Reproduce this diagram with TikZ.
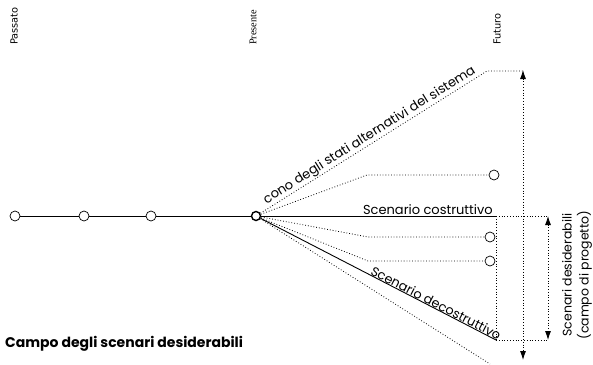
\documentclass[tikz,border=0pt]{standalone}
\usepackage{fontspec}
\setmainfont{Poppins}
\newfontfamily\djv{DejaVu Sans}
\newfontfamily\lser{Liberation Serif}
\usetikzlibrary{arrows.meta}
\begin{document}
\begin{tikzpicture}[x=1pt,y=-1pt,
  pt/.style={circle,draw,fill=white,minimum size=10pt,inner sep=0pt,line width=0.7pt},
  ptp/.style={circle,draw,fill=white,minimum size=9pt,inner sep=0pt,line width=1.4pt},
  solidln/.style={line width=0.9pt},
  dotln/.style={dotted,line width=0.8pt},
  dblarrow/.style={dotted,line width=0.8pt,{Latex[length=9pt,width=6pt]}-{Latex[length=9pt,width=6pt]}},
  lbl/.style={inner sep=1pt},
  timelbl/.style={font=\djv\fontsize{9.8}{11}\selectfont,rotate=90,anchor=west,inner sep=0pt},
]
\useasboundingbox (0,0) rectangle (593,364);
% timeline labels
\node[timelbl] (lpas) at (14,45) {Passato};
\node[timelbl,font=\lser\fontsize{10.3}{11}\selectfont] (lpre) at (253,45) {Presente};
\node[timelbl] (lfut) at (497,45) {Futuro};
% timeline
\node[pt] (c1) at (15,216) {};
\node[pt] (c2) at (84,216) {};
\node[pt] (c3) at (151,216) {};
\node[ptp] (pres) at (256,216) {};
\draw[solidln] (c1) -- (c2) -- (c3) -- (pres);
% coordinates
\coordinate (ct) at (487,71);
\coordinate (ctr) at (523,71);
\coordinate (b1) at (367,175);
\coordinate (b2) at (368,237);
\coordinate (b3) at (368,261);
\coordinate (sc) at (496,216);
\coordinate (scr) at (547,216);
\coordinate (sd) at (496,340);
\coordinate (sdr) at (547,340);
\coordinate (cb) at (490,364);
\coordinate (at1) at (523,70);
\coordinate (ab1) at (523,360);
\coordinate (at2) at (548,216);
\coordinate (ab2) at (548,340);
% right circles
\node[pt] (o1) at (494,175) {};
\node[pt] (o2) at (490,237) {};
\node[pt] (o3) at (490,261) {};
% cone
\draw[dotln] (pres) -- node[lbl,sloped,above,pos=0.5,inner sep=0.5pt,font=\fontsize{13}{15}\selectfont] (lcono) {cono degli stati alternativi del sistema} (ct) -- (ctr);
\draw[dotln] (pres) -- (cb);
\draw[dotln] (pres) -- (b1) -- (o1);
\draw[dotln] (pres) -- (b2) -- (o2);
\draw[dotln] (pres) -- (b3) -- (o3);
\draw[solidln] (pres) -- node[lbl,above,pos=0.71,font=\fontsize{13}{15}\selectfont] (lcos) {Scenario costruttivo} (sc);
\draw[solidln] (pres) -- node[lbl,sloped,above,pos=0.735,inner sep=0pt,font=\fontsize{12.8}{14}\selectfont] (ldec) {Scenario decostruttivo} (sd);
\draw[dotln] (sc) -- (scr);
\draw[dotln] (sd) -- (sdr);
\draw[dotln] (sc) -- (sd);
\draw[dblarrow] (at1) -- (ab1);
\draw[dblarrow] (at2) -- (ab2);
\node[lbl,rotate=90,align=center,font=\fontsize{12.5}{17}\selectfont] (lsd) at (577,275) {Scenari desiderabili\\(campo di progetto)};
\node[anchor=west,inner sep=0pt,font=\bfseries\fontsize{14}{16}\selectfont] (ltit) at (5,344) {Campo degli scenari desiderabili};
\end{tikzpicture}
\end{document}
